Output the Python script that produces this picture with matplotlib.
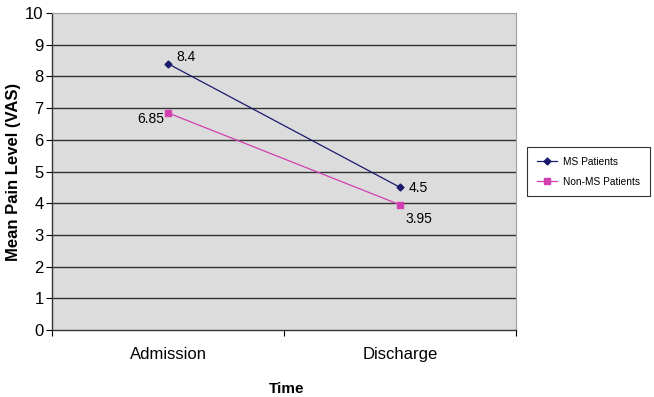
import numpy as np
import matplotlib
matplotlib.use('Agg')
import matplotlib.pyplot as plt

plt.rcParams['font.family'] = ['Liberation Sans', 'DejaVu Sans']

# data
categories = ['Admission', 'Discharge']
ms_patients = [8.4, 4.5]
non_ms_patients = [6.85, 3.95]
ms_labels = ['8.4', '4.5']
non_ms_labels = ['6.85', '3.95']
y_ticks = [0, 1, 2, 3, 4, 5, 6, 7, 8, 9, 10]

W, H = 654, 397
fig = plt.figure(figsize=(W/100, H/100), dpi=100)
ax = fig.add_axes([52/W, 1-330/H, 464/W, 317/H])
ax.set_facecolor('#dcdcdc')

x = np.arange(len(categories))
ax.plot(x, ms_patients, color='#1a1a6e', lw=0.9, marker='D', ms=3.5,
        label='MS Patients', zorder=3)
ax.plot(x, non_ms_patients, color='#d23fb0', lw=0.9, marker='s', ms=5,
        label='Non-MS Patients', zorder=3)

# point labels (offsets in points)
ax.annotate(ms_labels[0], (x[0], ms_patients[0]), xytext=(6, 5),
            textcoords='offset points', fontsize=10, va='center')
ax.annotate(ms_labels[1], (x[1], ms_patients[1]), xytext=(6, -0.5),
            textcoords='offset points', fontsize=10, va='center')
ax.annotate(non_ms_labels[0], (x[0], non_ms_patients[0]), xytext=(-3, -4.5),
            textcoords='offset points', fontsize=10, va='center', ha='right')
ax.annotate(non_ms_labels[1], (x[1], non_ms_patients[1]), xytext=(4, -10),
            textcoords='offset points', fontsize=10, va='center')

ax.set_xlim(-0.5, 1.5)
ax.set_ylim(0, 10)
ax.set_yticks(y_ticks)
ax.set_xticks(x)
ax.set_xticklabels(categories)
ax.tick_params(axis='y', labelsize=12, length=4, width=0.8, pad=2)
ax.tick_params(axis='x', labelsize=12, length=0, pad=12)
ax.set_xticks([-0.5, 0.5, 1.5], minor=True)
ax.tick_params(axis='x', which='minor', length=4, width=0.8)

for v in y_ticks[1:-1]:
    ax.axhline(v, color='#333333', lw=1.0, zorder=1)

ax.spines['top'].set_color('#a0a0a0')
ax.spines['right'].set_color('#a0a0a0')
ax.spines['left'].set_color('#333333')
ax.spines['bottom'].set_color('#333333')
ax.spines['left'].set_linewidth(1.0)
ax.spines['bottom'].set_linewidth(1.0)

ax.set_ylabel('Mean Pain Level (VAS)', fontsize=12, fontweight='bold')
ax.yaxis.set_label_coords(-31/464, 0.5)
ax.set_xlabel('Time', fontsize=11, fontweight='bold')
ax.xaxis.set_label_coords(0.505, -52/317)

leg = fig.legend(*ax.get_legend_handles_labels(), loc='upper left',
                 bbox_to_anchor=(527/W, 1-147/H), fontsize=7.3,
                 frameon=True, fancybox=False, edgecolor='black',
                 handlelength=2.0, handletextpad=0.6, borderpad=0.95,
                 borderaxespad=0, labelspacing=1.0)
leg.get_frame().set_linewidth(0.8)

fig.savefig('out.png', dpi=100)
